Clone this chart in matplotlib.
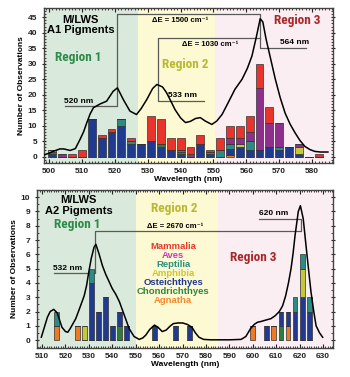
import numpy as np
import matplotlib
matplotlib.use("Agg")
import matplotlib.pyplot as plt
from matplotlib.ticker import MultipleLocator
from matplotlib import font_manager

plt.rcParams['font.family'] = ['Liberation Sans', 'DejaVu Sans']
plt.rcParams['font.weight'] = 'bold'
plt.rcParams['axes.labelweight'] = 'bold'

# ---------------- data: A1 pigments (top) ----------------
a1_wl = [501, 504, 507, 510, 513, 516, 519, 522, 525, 528, 531, 534, 537, 540,
         543, 546, 549, 552, 555, 558, 561, 564, 567, 570, 573, 576, 579, 582]
a1_agnatha  = [0, 0, 0, 0, 0, 0, 0, 0, 0, 0, 0, 0, 0, 0, 0, 0, 0, 0, 0.5, 0, 0, 0, 0, 0, 0, 0, 0, 0]
a1_osteich  = [1, 0, 0, 0, 12, 6, 8, 10, 4, 4, 5, 3, 2, 1, 0, 4, 1, 0, 2, 3, 2, 2, 3, 2, 3, 1, 0, 0]
a1_chondr   = [0.5, 0, 0, 0, 0, 0, 0, 0, 0, 0, 0, 1, 0, 0.5, 0, 0, 0, 0, 0, 0, 0, 0, 0, 0, 0, 0, 0, 0]
a1_reptilia = [0, 0, 0, 0, 0, 0, 0, 2, 1, 0, 0, 0, 0, 0.5, 0, 0, 0.5, 2, 1.5, 0, 3, 0, 0, 1, 0, 0, 0, 0]
a1_amphibia = [0.5, 0, 0, 0, 0, 0, 0, 0, 0, 0, 0, 0, 0, 0, 0, 0, 0, 0, 0, 1, 0, 0, 0, 0, 0, 2, 0, 0]
a1_aves     = [0, 1, 0, 0, 0, 0, 0, 0, 0, 0, 0, 0, 0, 0, 1, 0, 0, 0, 2, 2, 3, 20, 8, 8, 0, 1, 0, 0]
a1_mammalia = [0, 0, 1, 2, 0, 1, 1, 0, 1, 0, 8, 8, 4, 4, 2, 3, 0.5, 4, 4, 4, 5, 8, 5, 0, 0, 0, 0, 1]

a1_curve_wl = [498.5, 500, 501.2, 503.3, 504.5, 506.4, 508, 509.4, 510.5, 511.5, 512.5, 513.5,
               515.5, 517.5, 519.5, 520.8, 522.6, 524.6, 526.6, 528, 529.7, 531.5, 532.8, 534.5,
               535.7, 537, 538.3, 540, 541.5, 543, 544.5, 546, 547.5, 549.5, 551, 552.6, 554.5,
               556.5, 558.7, 560.3, 561.7, 563, 564.2, 565, 566, 567.5, 568.8, 570.3, 571.8,
               573.3, 574.8, 576.3, 577.8, 579.3, 580.8, 582.5, 584.8]
a1_curve = [0.6, 1.1, 1.7, 2.5, 2.5, 2.0, 2.6, 5.5, 8, 11, 13.8, 15.8,
            17, 17.9, 21.1, 22.2, 18.4, 14.7, 13.6, 15.5, 18.4, 22, 23.3, 22.5,
            20.7, 18, 15.2, 12.5, 11, 11.4, 12.3, 12.6, 11.5, 10.4, 11.5, 13.6, 17.5,
            21.7, 25, 28.5, 32.5, 38.5, 44.5, 43.5, 37.9, 31, 25, 19, 14,
            10.5, 7.7, 5.2, 3.3, 2.3, 1.7, 1.5, 1.5]

# ---------------- data: A2 pigments (bottom) ----------------
a2_wl = [516, 525, 528, 531, 534, 537, 540, 543, 546, 558, 567, 573,
         600, 606, 609, 612, 615, 618, 621, 624]
a2_agnatha  = [1, 1, 0, 0, 0, 0, 0, 0, 0, 0, 0, 0, 1, 0, 1, 0, 1, 0, 0, 0]
a2_chondr   = [0, 0, 0, 0, 0, 0, 0, 1, 0, 0, 0, 0, 0, 0, 0, 1, 0, 0, 0, 0]
a2_osteich  = [0, 0, 0, 4, 2, 3, 1, 1, 1, 1, 1, 1, 0, 1, 0, 1, 1, 2, 3, 2]
a2_amphibia = [0, 0, 1, 0, 0, 0, 0, 0, 0, 0, 0, 0, 0, 0, 0, 0, 0, 0, 2, 0]
a2_reptilia = [1, 0, 0, 1, 0, 0, 0, 0, 0, 0, 0, 0, 0, 0, 0, 0, 0, 1, 1, 1]

a2_curve_wl = [509.7, 511, 512.3, 513.5, 515, 516.5, 517.5, 518.5, 520, 521, 522, 524.4, 526,
               528, 529, 530, 531, 532.2, 533, 534.4, 535.8, 537.2, 538.6, 540, 541.5, 543,
               545, 547.2, 549.3, 551.5, 553, 554.3, 556, 558, 559.5, 561.3, 563, 564.5, 566,
               568, 570, 572, 574, 575.5, 577, 579, 582, 590, 595, 597, 599, 600.6, 602,
               603.4, 605.5, 607.7, 609.5, 611.3, 612.7, 614, 615.2, 616.3, 617.2, 618,
               619.4, 620.3, 621.5, 622.7, 623.8, 624.8, 626, 627, 628.5, 629.8]
a2_curve = [0.2, 0.9, 1.6, 2.0, 2.15, 1.9, 1.4, 0.9, 0.6, 0.55, 0.8, 1.5, 2.2,
            3.1, 3.8, 4.8, 5.7, 6.5, 6.7, 6.0, 5.2, 4.6, 4.1, 3.6, 3.2, 2.7,
            1.8, 0.8, 0.25, 0.05, 0.15, 0.35, 0.75, 1.05, 0.9, 0.6, 0.7, 0.95, 1.15,
            1.2, 1.2, 1.1, 0.9, 0.5, 0.2, 0.05, 0.02, 0.02, 0.05, 0.25, 0.8, 1.1, 1.25,
            1.3, 1.4, 1.5, 1.7, 2.0, 2.4, 3.1, 4.0, 5.0, 6.1, 7.3,
            9.0, 9.4, 8.5, 6.6, 4.9, 3.4, 2.0, 1.0, 0.5, 0.2]

groups = ['Mammalia', 'Aves', 'Reptilia', 'Amphibia', 'Osteichthyes', 'Chondrichthyes', 'Agnatha']

# colours
bar_col = {'Mammalia': '#e8342c', 'Aves': '#8e2f8c', 'Reptilia': '#2b8c84', 'Amphibia': '#c4c83a',
           'Osteichthyes': '#1f3a8f', 'Chondrichthyes': '#2e7d3a', 'Agnatha': '#f07a22'}
txt_col = {'Mammalia': '#e53a2e', 'Aves': '#c43bbd', 'Reptilia': '#2a9080', 'Amphibia': '#cfc62a',
           'Osteichthyes': '#1f3a8f', 'Chondrichthyes': '#2e8443', 'Agnatha': '#f28a30'}
reg_bg = ['#d9eadc', '#fdf9d3', '#fbeef3']
reg_txt = ['#2e8a48', '#b9b832', '#a8282a']
line_col = '#5a5a5a'

# condensed face for the "Region" labels if one is around
narrow = ['Liberation Sans']
reg_size = 8.2
for fam in ['Liberation Sans Narrow', 'Roboto Condensed', 'Open Sans Condensed']:
    try:
        font_manager.findfont(font_manager.FontProperties(family=fam, weight='bold'),
                              fallback_to_default=False)
        narrow = [fam, 'Liberation Sans']
        reg_size = 9.5
        break
    except Exception:
        pass


def stack(ax, wl, series, width):
    bottom = np.zeros(len(wl))
    for name, vals in series:
        vals = np.array(vals, dtype=float)
        ax.bar(wl, vals, width=width, bottom=bottom, color=bar_col[name],
               edgecolor='#333333', linewidth=0.5, zorder=3)
        bottom += vals


def style(ax):
    for s in ax.spines.values():
        s.set_color('#444444')
        s.set_linewidth(1.0)
    ax.tick_params(which='both', direction='in', top=True, right=True, labelsize=6,
                   colors='#222222')
    ax.tick_params(axis='y', which='major', direction='inout', length=4)
    ax.tick_params(which='major', length=3)
    ax.tick_params(which='minor', length=1.5)
    ax.set_xlabel('Wavelength (nm)', fontsize=6, labelpad=1)
    ax.set_ylabel('Number of Observations', fontsize=6, labelpad=2)


fig = plt.figure(figsize=(3.5, 3.77), dpi=100)

# ================= top panel =================
ax1 = fig.add_axes([0.126, 0.568, 0.826, 0.411])
x0, x1 = 498.5, 586.4
ax1.set_xlim(x0, x1)
ax1.set_ylim(-2, 48)
ax1.axvspan(x0, 527, color=reg_bg[0], zorder=0, lw=0)
ax1.axvspan(527, 550.5, color=reg_bg[1], zorder=0, lw=0)
ax1.axvspan(550.5, x1, color=reg_bg[2], zorder=0, lw=0)

stack(ax1, a1_wl, [('Agnatha', a1_agnatha), ('Osteichthyes', a1_osteich),
                   ('Chondrichthyes', a1_chondr), ('Reptilia', a1_reptilia),
                   ('Amphibia', a1_amphibia), ('Aves', a1_aves),
                   ('Mammalia', a1_mammalia)], 2.4)
ax1.plot(a1_curve_wl, a1_curve, color='black', lw=1.1, zorder=4)

# brackets
ax1.plot([505, 520.8, 520.8, 564.2, 564.2, 578], [16.2, 16.2, 46, 46, 35.2, 35.2],
         color=line_col, lw=0.9, zorder=2)
ax1.plot([547, 533, 533, 564.2], [17.9, 17.9, 38.4, 38.4], color=line_col, lw=0.9, zorder=2)

ax1.text(509.6, 44.1, 'M/LWS', ha='center', va='center', fontsize=8)
ax1.text(509.6, 40.8, 'A1 Pigments', ha='center', va='center', fontsize=8)
ax1.text(509, 31.9, 'Region 1', ha='center', va='center', fontsize=reg_size, color=reg_txt[0], family=narrow)
ax1.text(541.3, 29.8, 'Region 2', ha='center', va='center', fontsize=reg_size, color=reg_txt[1], family=narrow)
ax1.text(575.6, 43.8, 'Region 3', ha='center', va='center', fontsize=reg_size, color=reg_txt[2], family=narrow)
ax1.text(540, 43.8, 'ΔE = 1500 cm⁻¹', ha='center', va='center', fontsize=5.5)
ax1.text(549, 36.3, 'ΔE = 1030 cm⁻¹', ha='center', va='center', fontsize=5.5)
ax1.text(509, 16.8, '520 nm', ha='center', va='bottom', fontsize=6)
ax1.text(540.5, 18.5, '533 nm', ha='center', va='bottom', fontsize=6)
ax1.text(574.6, 35.8, '564 nm', ha='center', va='bottom', fontsize=6)

ax1.xaxis.set_major_locator(MultipleLocator(10))
ax1.xaxis.set_minor_locator(MultipleLocator(1))
ax1.yaxis.set_minor_locator(MultipleLocator(1))
ax1.set_yticks(range(0, 46, 5))
style(ax1)

# ================= bottom panel =================
ax2 = fig.add_axes([0.106, 0.077, 0.846, 0.419])
x0, x1 = 507.9, 634.3
ax2.set_xlim(x0, x1)
ax2.set_ylim(-0.55, 10.5)
ax2.axvspan(x0, 550, color=reg_bg[0], zorder=0, lw=0)
ax2.axvspan(550, 585, color=reg_bg[1], zorder=0, lw=0)
ax2.axvspan(585, x1, color=reg_bg[2], zorder=0, lw=0)

stack(ax2, a2_wl, [('Agnatha', a2_agnatha), ('Chondrichthyes', a2_chondr),
                   ('Osteichthyes', a2_osteich), ('Amphibia', a2_amphibia),
                   ('Reptilia', a2_reptilia)], 2.1)
ax2.plot(a2_curve_wl, a2_curve, color='black', lw=1.1, zorder=4)

ax2.plot([515, 532.5, 532.5, 620.5, 620.5, 602.7], [4.66, 4.66, 7.6, 7.6, 8.5, 8.5],
         color=line_col, lw=0.9, zorder=2)

ax2.text(525.6, 9.8, 'M/LWS', ha='center', va='center', fontsize=8)
ax2.text(525.6, 9.0, 'A2 Pigments', ha='center', va='center', fontsize=8)
ax2.text(525.1, 8.1, 'Region 1', ha='center', va='center', fontsize=reg_size, color=reg_txt[0], family=narrow)
ax2.text(566.5, 9.2, 'Region 2', ha='center', va='center', fontsize=reg_size, color=reg_txt[1], family=narrow)
ax2.text(600.3, 5.8, 'Region 3', ha='center', va='center', fontsize=reg_size, color=reg_txt[2], family=narrow)
ax2.text(567, 7.7, 'ΔE = 2670 cm⁻¹', ha='center', va='bottom', fontsize=5.5)
ax2.text(520.8, 4.75, '532 nm', ha='center', va='bottom', fontsize=6)
ax2.text(609, 8.6, '620 nm', ha='center', va='bottom', fontsize=6)

leg_y = [6.52, 5.9, 5.28, 4.66, 4.04, 3.42, 2.8]
for name, yy in zip(groups, leg_y):
    ax2.text(566, yy, name, ha='center', va='center', fontsize=6.8, color=txt_col[name])

ax2.xaxis.set_major_locator(MultipleLocator(10))
ax2.xaxis.set_minor_locator(MultipleLocator(1))
ax2.set_yticks(range(0, 11))
ax2.yaxis.set_minor_locator(MultipleLocator(0.5))
style(ax2)

fig.savefig('out.png', dpi=100)
